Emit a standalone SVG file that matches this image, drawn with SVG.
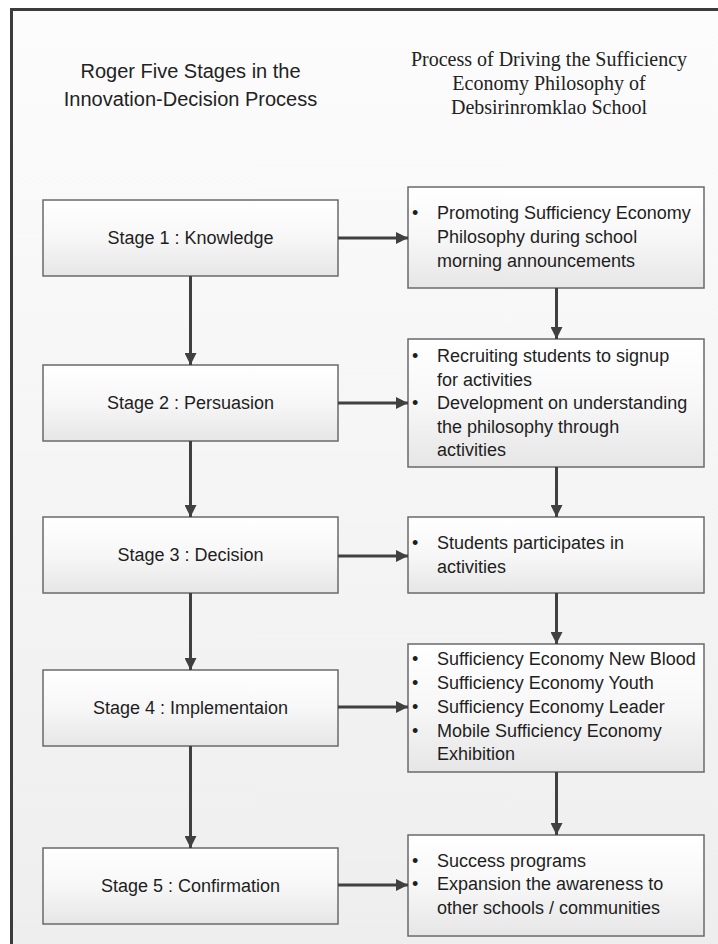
<svg xmlns="http://www.w3.org/2000/svg" width="718" height="944" viewBox="0 0 718 944">
<defs>
<linearGradient id="bg" x1="0" y1="0" x2="0" y2="1">
<stop offset="0" stop-color="#fcfcfc"/>
<stop offset="1" stop-color="#eeeeee"/>
</linearGradient>
<linearGradient id="boxfill" x1="0" y1="0" x2="0" y2="1">
<stop offset="0" stop-color="#ffffff"/>
<stop offset="0.5" stop-color="#f7f7f7"/>
<stop offset="1" stop-color="#e6e6e6"/>
</linearGradient>
<marker id="ah" markerUnits="userSpaceOnUse" markerWidth="12" markerHeight="12" refX="12" refY="6" orient="auto">
<path d="M0,0 L12,6 L0,12 z" fill="#404040"/>
</marker>
<style>
.box{fill:url(#boxfill);stroke:#6a6a6a;stroke-width:1.5}
.t{font-family:"Liberation Sans",Arial,sans-serif;font-size:18px;fill:#1e1e1e}
.c{text-anchor:middle}
.h1{font-family:"Liberation Sans",Arial,sans-serif;font-size:20px;fill:#222;text-anchor:middle}
.h2{font-family:"Liberation Serif","Times New Roman",serif;font-size:20px;fill:#222;text-anchor:middle}
.conn line{stroke:#404040;stroke-width:3;marker-end:url(#ah)}
</style>
</defs>
<rect x="0" y="0" width="718" height="944" fill="#ffffff"/>
<rect id="frame" x="11.5" y="9.5" width="720" height="940" fill="url(#bg)" stroke="#3c3c3c" stroke-width="3"/>

<g id="title-left">
<text class="h1" x="190.5" y="78">Roger Five Stages in the</text>
<text class="h1" x="190.5" y="106">Innovation-Decision Process</text>
</g>
<g id="title-right">
<text class="h2" x="549" y="66">Process of Driving the Sufficiency</text>
<text class="h2" x="549" y="90">Economy Philosophy of</text>
<text class="h2" x="549" y="114">Debsirinromklao School</text>
</g>

<g id="stage1"><rect class="box" x="43" y="200" width="295" height="76"/><text class="t c" x="190.5" y="244">Stage 1 : Knowledge</text></g>
<g id="stage2"><rect class="box" x="43" y="365" width="295" height="76"/><text class="t c" x="190.5" y="409">Stage 2 : Persuasion</text></g>
<g id="stage3"><rect class="box" x="43" y="517" width="295" height="76"/><text class="t c" x="190.5" y="561">Stage 3 : Decision</text></g>
<g id="stage4"><rect class="box" x="43" y="670" width="295" height="76"/><text class="t c" x="190.5" y="714">Stage 4 : Implementaion</text></g>
<g id="stage5"><rect class="box" x="43" y="848" width="295" height="76"/><text class="t c" x="190.5" y="892">Stage 5 : Confirmation</text></g>

<g id="proc1"><rect class="box" x="408" y="187" width="296" height="101"/>
<text class="t" x="412" y="219">•</text><text class="t" x="437" y="219">Promoting Sufficiency Economy</text>
<text class="t" x="437" y="243">Philosophy during school</text>
<text class="t" x="437" y="267">morning announcements</text></g>

<g id="proc2"><rect class="box" x="408" y="339" width="296" height="128"/>
<text class="t" x="412" y="362">•</text><text class="t" x="437" y="362">Recruiting students to signup</text>
<text class="t" x="437" y="385.5">for activities</text>
<text class="t" x="412" y="409">•</text><text class="t" x="437" y="409">Development on understanding</text>
<text class="t" x="437" y="432.5">the philosophy through</text>
<text class="t" x="437" y="456">activities</text></g>

<g id="proc3"><rect class="box" x="408" y="517" width="296" height="76"/>
<text class="t" x="412" y="549">•</text><text class="t" x="437" y="549">Students participates in</text>
<text class="t" x="437" y="573">activities</text></g>

<g id="proc4"><rect class="box" x="408" y="644" width="296" height="128"/>
<text class="t" x="412" y="665">•</text><text class="t" x="437" y="665">Sufficiency Economy New Blood</text>
<text class="t" x="412" y="689">•</text><text class="t" x="437" y="689">Sufficiency Economy Youth</text>
<text class="t" x="412" y="713">•</text><text class="t" x="437" y="713">Sufficiency Economy Leader</text>
<text class="t" x="412" y="737">•</text><text class="t" x="437" y="737">Mobile Sufficiency Economy</text>
<text class="t" x="437" y="760">Exhibition</text></g>

<g id="proc5"><rect class="box" x="408" y="835" width="296" height="101"/>
<text class="t" x="412" y="867">•</text><text class="t" x="437" y="867">Success programs</text>
<text class="t" x="412" y="890">•</text><text class="t" x="437" y="890">Expansion the awareness to</text>
<text class="t" x="437" y="914">other schools / communities</text></g>

<g id="connectors" class="conn">
<line x1="190.5" y1="276" x2="190.5" y2="365"/>
<line x1="190.5" y1="441" x2="190.5" y2="517"/>
<line x1="190.5" y1="593" x2="190.5" y2="670"/>
<line x1="190.5" y1="746" x2="190.5" y2="848"/>
<line x1="338" y1="238" x2="408" y2="238"/>
<line x1="338" y1="403" x2="408" y2="403"/>
<line x1="338" y1="556" x2="408" y2="556"/>
<line x1="338" y1="707" x2="408" y2="707"/>
<line x1="338" y1="885" x2="408" y2="885"/>
<line x1="556.5" y1="288" x2="556.5" y2="339"/>
<line x1="556.5" y1="467" x2="556.5" y2="517"/>
<line x1="556.5" y1="593" x2="556.5" y2="644"/>
<line x1="556.5" y1="772" x2="556.5" y2="835"/>
</g>
</svg>
